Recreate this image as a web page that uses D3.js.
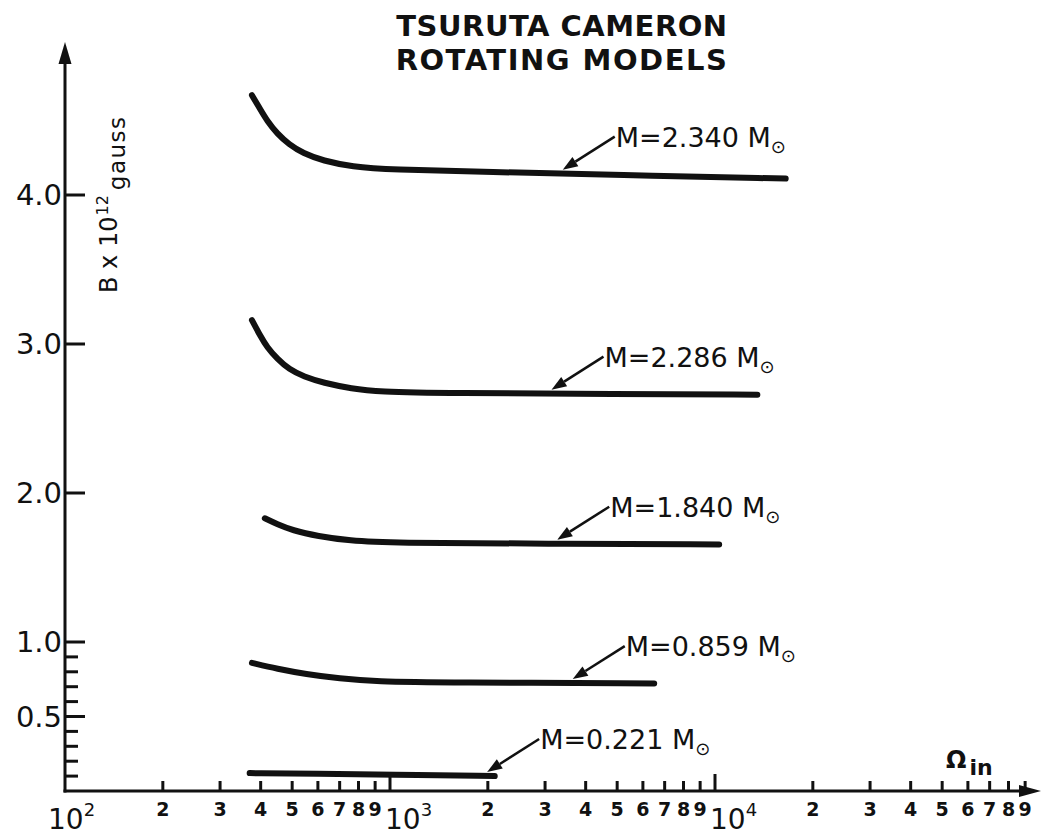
<!DOCTYPE html>
<html>
<head>
<meta charset="utf-8">
<script src="https://cdn.jsdelivr.net/npm/d3@7"></script>
<style>
  body { margin: 0; background: #fff; }
  text { font-family: "DejaVu Sans", sans-serif; fill: #111; }
</style>
</head>
<body>
<svg id="svg"></svg>
<script>
const width = 1042, height = 837;

// title lines
const titleLines = ["TSURUTA CAMERON", "ROTATING MODELS"];

// one curve per model mass: Omega_in on x (log), B in 10^12 gauss on y
const masses = ["2.340", "2.286", "1.840", "0.859", "0.221"];

const omega2340 = [376, 400, 418, 450, 489, 540, 622, 764, 1000, 2000, 5000, 16500];
const b2340     = [4.67, 4.57, 4.50, 4.41, 4.34, 4.28, 4.23, 4.19, 4.17, 4.155, 4.135, 4.11];

const omega2286 = [376, 400, 418, 450, 489, 544, 622, 764, 918, 1500, 5000, 13500];
const b2286     = [3.16, 3.05, 2.98, 2.90, 2.83, 2.78, 2.74, 2.70, 2.68, 2.67, 2.665, 2.66];

const omega1840 = [412, 450, 500, 600, 750, 1000, 3000, 10300];
const b1840     = [1.83, 1.79, 1.75, 1.71, 1.68, 1.665, 1.66, 1.655];

const omega0859 = [376, 450, 550, 700, 900, 1500, 6500];
const b0859     = [0.86, 0.82, 0.785, 0.755, 0.735, 0.728, 0.722];

const omega0221 = [370, 600, 1000, 2100];
const b0221     = [0.12, 0.115, 0.11, 0.10];

const curveOmega = [omega2340, omega2286, omega1840, omega0859, omega0221];
const curveB     = [b2340, b2286, b1840, b0859, b0221];

// where each label arrow touches its curve (Omega_in)
const arrowOmega = [3400, 3140, 3270, 3650, 1990];

// axis ticks
const decades = [100, 1000, 10000];
const decadeExp = ["2", "3", "4"];
const minorDigits = [2, 3, 4, 5, 6, 7, 8, 9];
const yMajor = [1.0, 2.0, 3.0, 4.0, 0.5];
const yMajorLabels = ["1.0", "2.0", "3.0", "4.0", "0.5"];
const yMinor = [0.1, 0.2, 0.3, 0.4, 0.6, 0.7, 0.8, 0.9];

const x = d3.scaleLog().domain([100, 100000]).range([65, 1040]);
const y = d3.scaleLinear().domain([0, 4]).range([791, 195]);

const svg = d3.select("#svg")
    .attr("width", width)
    .attr("height", height);

svg.append("rect").attr("width", width).attr("height", height).attr("fill", "#fff");

// axes
const axisG = svg.append("g").attr("stroke", "#111").attr("stroke-width", 3);
axisG.append("line").attr("x1", x(100)).attr("x2", x(100)).attr("y1", y(0) + 1.5).attr("y2", 58);
axisG.append("line").attr("x1", x(100) - 1.5).attr("x2", 1025).attr("y1", y(0)).attr("y2", y(0));

svg.append("path")
    .attr("d", `M${x(100)},42 L${x(100) - 6.5},64 L${x(100) + 6.5},64 Z`)
    .attr("fill", "#111");
svg.append("path")
    .attr("d", `M1041,${y(0)} L1019,${y(0) - 6} L1019,${y(0) + 6} Z`)
    .attr("fill", "#111");

// x ticks
const minorTicks = [];
decades.forEach(d => minorDigits.forEach(m => minorTicks.push({v: d * m, m})));

axisG.selectAll("line.xminor")
    .data(minorTicks)
    .join("line")
    .attr("class", "xminor")
    .attr("x1", d => x(d.v)).attr("x2", d => x(d.v))
    .attr("y1", y(0)).attr("y2", y(0) - 10);

axisG.selectAll("line.xmajor")
    .data(decades.slice(1))
    .join("line")
    .attr("class", "xmajor")
    .attr("x1", d => x(d)).attr("x2", d => x(d))
    .attr("y1", y(0)).attr("y2", y(0) - 17);

svg.selectAll("text.xminor")
    .data(minorTicks)
    .join("text")
    .attr("class", "xminor")
    .attr("x", d => x(d.v))
    .attr("y", 816)
    .attr("text-anchor", "middle")
    .attr("font-size", 19)
    .attr("font-weight", "bold")
    .text(d => d.m);

const decLabel = svg.selectAll("text.dec")
    .data(decades)
    .join("text")
    .attr("class", "dec")
    .attr("x", (d, i) => i === 0 ? x(d) - 17 : x(d) - 5)
    .attr("y", 829)
    .attr("font-size", 28);
decLabel.append("tspan").text("10");
decLabel.append("tspan")
    .attr("font-size", 18)
    .attr("dy", -13)
    .text((d, i) => decadeExp[i]);

// y ticks
axisG.selectAll("line.ymajor")
    .data(yMajor)
    .join("line")
    .attr("class", "ymajor")
    .attr("x1", x(100)).attr("x2", x(100) + 20)
    .attr("y1", d => y(d)).attr("y2", d => y(d));

axisG.selectAll("line.yminor")
    .data(yMinor)
    .join("line")
    .attr("class", "yminor")
    .attr("x1", x(100)).attr("x2", x(100) + 13)
    .attr("y1", d => y(d)).attr("y2", d => y(d));

svg.selectAll("text.ylab")
    .data(yMajor)
    .join("text")
    .attr("class", "ylab")
    .attr("x", 62)
    .attr("y", d => y(d))
    .attr("dy", "0.36em")
    .attr("text-anchor", "end")
    .attr("font-size", 29)
    .text((d, i) => yMajorLabels[i]);

// y title
const yTitle = svg.append("text")
    .attr("transform", "translate(117,293) rotate(-90)")
    .attr("font-size", 24);
yTitle.append("tspan").text("B x 10");
yTitle.append("tspan").attr("font-size", 16).attr("dy", -9).attr("dx", 1).text("12");
yTitle.append("tspan").attr("font-size", 23).attr("dy", 17).attr("dx", 5)
    .attr("letter-spacing", 1.5).text("gauss");

// x title
const xTitle = svg.append("text").attr("x", 946).attr("y", 768).attr("font-size", 24).attr("font-weight", "bold");
xTitle.append("tspan").text("Ω");
xTitle.append("tspan").attr("font-size", 22).attr("dy", 7).attr("dx", 3).text("in");

// title
svg.selectAll("text.title")
    .data(titleLines)
    .join("text")
    .attr("class", "title")
    .attr("x", 562)
    .attr("y", (d, i) => 36 + i * 34)
    .attr("text-anchor", "middle")
    .attr("font-size", 29)
    .attr("font-weight", "bold")
    .attr("letter-spacing", (d, i) => i === 0 ? 0.5 : 1.5)
    .text(d => d);

// curves
const line = d3.line()
    .x(d => x(d[0]))
    .y(d => y(d[1]))
    .curve(d3.curveBasis);

svg.append("g")
    .attr("fill", "none")
    .attr("stroke", "#111")
    .attr("stroke-width", 6)
    .attr("stroke-linecap", "round")
    .selectAll("path")
    .data(curveOmega.map((om, i) => om.map((o, j) => [o, curveB[i][j]])))
    .join("path")
    .attr("d", line);

// labels with arrows
function bAt(i, o) {
    const om = curveOmega[i], b = curveB[i];
    for (let j = 1; j < om.length; j++) {
        if (o <= om[j]) {
            const t = (Math.log(o) - Math.log(om[j - 1])) / (Math.log(om[j]) - Math.log(om[j - 1]));
            return b[j - 1] + t * (b[j] - b[j - 1]);
        }
    }
    return b[b.length - 1];
}

masses.forEach((m, i) => {
    const tx = x(arrowOmega[i]), ty = y(bAt(i, arrowOmega[i])) - 4;
    const sx = tx + 52, sy = ty - 33;
    const ang = Math.atan2(ty - sy, tx - sx);
    const hx = tx - 15 * Math.cos(ang), hy = ty - 15 * Math.sin(ang);
    svg.append("line")
        .attr("x1", sx).attr("y1", sy).attr("x2", hx).attr("y2", hy)
        .attr("stroke", "#111").attr("stroke-width", 2.5);
    const px = -Math.sin(ang) * 5.5, py = Math.cos(ang) * 5.5;
    svg.append("path")
        .attr("d", `M${tx},${ty} L${hx + px},${hy + py} L${hx - px},${hy - py} Z`)
        .attr("fill", "#111");
    const lab = svg.append("text")
        .attr("x", sx + 1)
        .attr("y", sy + 10)
        .attr("font-size", 27);
    lab.append("tspan").text("M=" + m + " M");
    lab.append("tspan").attr("font-size", 18).attr("dy", 6).text("⊙");
});
</script>
</body>
</html>
